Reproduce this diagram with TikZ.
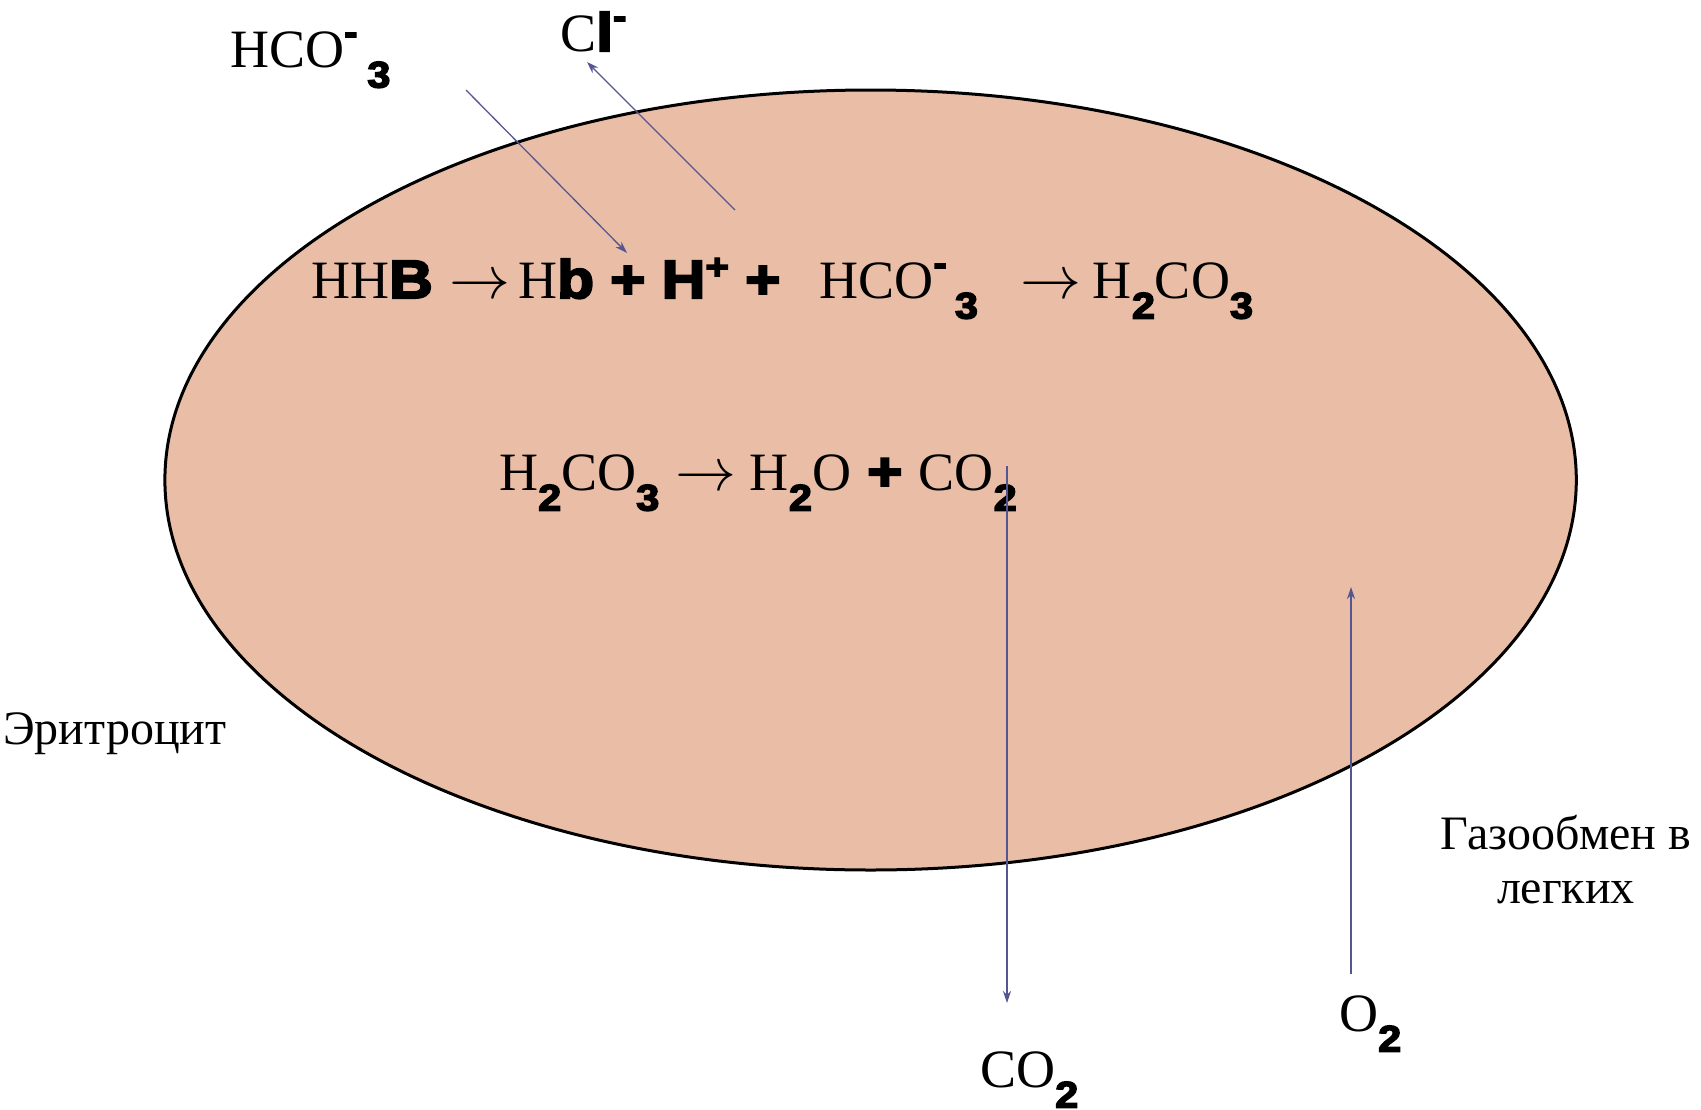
\documentclass[tikz,border=0pt]{standalone}
\usepackage{fontspec}
\setmainfont{Liberation Serif}
\newfontfamily\blk[FakeBold=4,FakeStretch=1.12]{Liberation Sans Bold}
\usetikzlibrary{arrows.meta}
\definecolor{cellfill}{RGB}{234,190,166}
\definecolor{arrowc}{RGB}{85,85,145}
\newcommand\subb[1]{\raisebox{-0.38em}{\fontsize{37}{37}\selectfont\blk #1}}
\newcommand\supm{\raisebox{0.42em}{\fontsize{36}{36}\selectfont\blk -}}
\newcommand\supp{\raisebox{0.35em}{\fontsize{36}{36}\selectfont\blk +}}
\newcommand\gp{\hspace{0.3em}}
\newcommand\ar{\scalebox{2.45}{$\rightarrow$}}
\tikzset{
  chem/.style={inner sep=0pt, anchor=base west, font=\fontsize{54}{60}\selectfont},
  word/.style={inner sep=0pt, anchor=base west, font=\fontsize{48}{54}\selectfont},
  flow/.style={draw=arrowc, line width=1.3pt, -{Stealth[length=12pt,width=8pt]}},
  cell/.style={draw=black, line width=3pt, fill=cellfill}
}
\begin{document}
\begin{tikzpicture}[x=1pt,y=-1pt]
\useasboundingbox (0,0) rectangle (1701,1109);
\draw[cell] (870.6,480) ellipse [x radius=705.7pt, y radius=390pt];
% texts
\node[chem] (hcoout) at (230,67) {HCO\supm\hspace{0.18em}\subb{3}};
\node[chem] (cl) at (560,51) {C{\blk l}\supm};
\node[chem] (eq1) at (311,298) {HH{\blk B}\gp\ar\hspace{0.15em}H{\blk b}\gp{\blk +}\gp{\blk H}\supp\gp{\blk +}\hspace{0.72em}HCO\supm\hspace{0.15em}\subb{3}\hspace{0.78em}\ar\hspace{0.22em}H\subb{2}CO\subb{3}};
\node[chem] (eq2) at (499,490) {H\subb{2}CO\subb{3}\gp\ar\hspace{0.25em}H\subb{2}O\gp{\blk +}\gp CO\subb{2}};
\node[word] (ery) at (3,744) {Эритроцит};
\node[word, anchor=base] (gas1) at (1566,849) {Газообмен в};
\node[word, anchor=base] (gas2) at (1566,903) {легких};
\node[chem] (o2) at (1339,1031) {O\subb{2}};
\node[chem] (co2) at (980,1087) {CO\subb{2}};
% connector end points
\coordinate (hcoA) at (466,90);
\coordinate (hcoB) at (627,253);
\coordinate (clA) at (735,210);
\coordinate (clB) at (587,62);
\coordinate (coA) at (1007,466);
\coordinate (coB) at (1007,1003);
\coordinate (oA) at (1351,974);
\coordinate (oB) at (1351,587);
\draw[flow] (hcoA) -- (hcoB);
\draw[flow] (clA) -- (clB);
\draw[flow] (coA) -- (coB);
\draw[flow] (oA) -- (oB);
\end{tikzpicture}
\end{document}
